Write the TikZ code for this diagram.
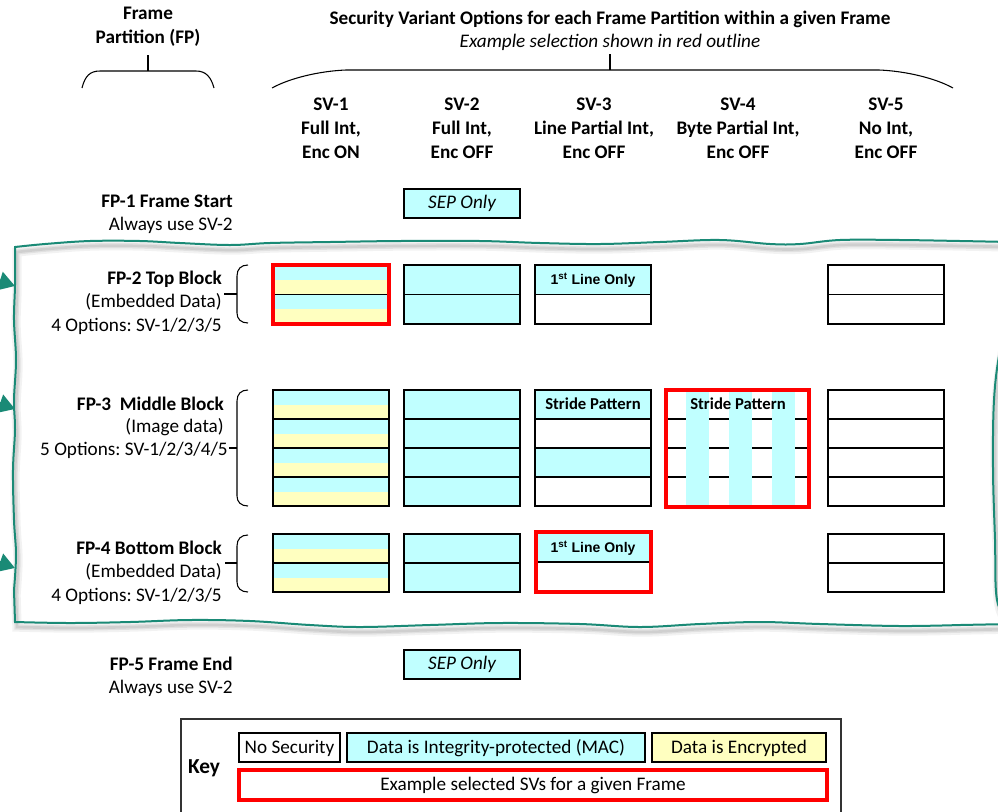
\documentclass[tikz,border=0pt]{standalone}
\usepackage{fontspec}
\setmainfont{Carlito}
\newfontfamily\arialfont{Liberation Sans}
\usetikzlibrary{arrows.meta}
\definecolor{macfill}{HTML}{C0FFFF}
\definecolor{encfill}{HTML}{FFFFC0}
\definecolor{selred}{HTML}{FF0000}
\definecolor{framegreen}{HTML}{1A8A76}
\frenchspacing

% one row: integrity-protected only
\newcommand\macrow[4]{\fill[macfill] ({#1},{#2}) rectangle ({#3},{#4});}
% one row: integrity-protected upper half, encrypted lower half
\newcommand\encrow[4]{%
  \fill[macfill] ({#1},{#2}) rectangle ({#3},{(#2+#4)/2});
  \fill[encfill] ({#1},{(#2+#4)/2}) rectangle ({#3},{#4});}
% outline of a block of #5 equal rows
\newcommand\cellblock[5]{%
  \draw[cellline] ({#1},{#2}) rectangle ({#3},{#4});
  \foreach \k in {1,...,#5}{\ifnum\k<#5
    \draw[cellline] ({#1},{#2+\k*(#4-#2)/#5}) -- ({#3},{#2+\k*(#4-#2)/#5});\fi}}

% outline of the frame region (hand-drawn look)
\newcommand\framepath{%
  plot[smooth,tension=0.6] coordinates {(15,247) (45,244) (90,241) (140,241) (180,243) (230,245) (270,243) (330,242) (400,241) (480,241) (540,243) (600,244) (660,242) (720,240) (770,244) (800,244) (840,240) (900,240) (960,241) (1010,242)}
  -- plot[smooth,tension=0.6] coordinates {(1012,300) (1000,350) (994,400) (993,470) (995,540) (997,600) (1010,624)}
  -- plot[smooth,tension=0.6] coordinates {(960,625) (900,626) (820,624) (760,622) (700,624) (640,627) (580,624) (500,623) (430,625) (360,627) (310,625) (250,621) (190,620) (130,622) (70,623) (15,622)}
  -- plot[smooth,tension=0.6] coordinates {(14,590) (16,555) (14,520) (13,470) (15,430) (14,400) (16,360) (14,320) (15,285) (15,250)}
  -- cycle}

\begin{document}
\begin{tikzpicture}[x=0.75pt,y=-0.75pt,
  txt/.style={font=\fontsize{14.4}{18}\selectfont, inner sep=0pt},
  btxt/.style={font=\fontsize{14.4}{18}\selectfont\bfseries, inner sep=0pt},
  celltxt/.style={font=\fontsize{10.5}{12}\selectfont\arialfont\bfseries, inner sep=0pt},
  stridetxt/.style={font=\fontsize{12.5}{14}\selectfont\bfseries, inner sep=0pt},
  cellline/.style={draw=black, line width=0.9pt},
  selbox/.style={draw=selred, line width=2.5pt},
  bracket/.style={draw=black, line width=0.8pt},
  framearrow/.style={draw=framegreen, line width=2.5pt, -{Triangle[length=12pt,width=14pt]}}]
\useasboundingbox (0,0) rectangle (998,811);

% ---------------- headers ----------------
\node[btxt, align=center] (fphead) at (148,27) {Frame\\Partition (FP)};
\draw[bracket] (82,88) .. controls (85,76) and (90,71) .. (100,71) -- (196,71)
  .. controls (206,71) and (211,77) .. (214,88);
\draw[bracket] (148,55) -- (148,71);

\node[btxt] (title) at (610,19) {Security Variant Options for each Frame Partition within a given Frame};
\node[txt, font=\fontsize{14.4}{18}\selectfont\itshape] (subtitle) at (610,42) {Example selection shown in red outline};
\draw[bracket] (272,88) .. controls (290,78) and (320,71) .. (346,70) -- (879,70)
  .. controls (905,71) and (935,78) .. (953,88);
\draw[bracket] (610,54) -- (610,70);

\node[btxt, align=center] (sv1) at (331,128) {SV-1\\Full Int,\\Enc ON};
\node[btxt, align=center] (sv2) at (462,128) {SV-2\\Full Int,\\Enc OFF};
\node[btxt, align=center] (sv3) at (594,128) {SV-3\\Line Partial Int,\\Enc OFF};
\node[btxt, align=center] (sv4) at (738,128) {SV-4\\Byte Partial Int,\\Enc OFF};
\node[btxt, align=center] (sv5) at (886,128) {SV-5\\No Int,\\Enc OFF};

% ---------------- frame region ----------------
\draw[black, opacity=0.05, line width=7pt, shift={(2,5)}] \framepath;
\draw[black, opacity=0.07, line width=4pt, shift={(2,5)}] \framepath;
\draw[black, opacity=0.08, line width=2pt, shift={(2,5)}] \framepath;
\draw[framegreen, line width=1.5pt] \framepath;

\coordinate (arrAsrc) at (-22,274);
\coordinate (arrAtip) at (15,286);
\coordinate (arrBsrc) at (-22,396);
\coordinate (arrBtip) at (15,409);
\coordinate (arrCsrc) at (-22,555);
\coordinate (arrCtip) at (15,568);
\draw[framearrow] (arrAsrc) -- (arrAtip);
\draw[framearrow] (arrBsrc) -- (arrBtip);
\draw[framearrow] (arrCsrc) -- (arrCtip);

% ---------------- FP-1 ----------------
\node[btxt, anchor=east] (fp1a) at (233,201) {FP-1 Frame Start};
\node[txt, anchor=east] (fp1b) at (233,225) {Always use SV-2};
\draw[cellline, fill=macfill] (404,189) rectangle (520,218);
\node[txt, font=\fontsize{14.4}{18}\selectfont\itshape] (sep1) at (462,203.5) {SEP Only};

% ---------------- FP-2 ----------------
\node[btxt, anchor=east] (fp2a) at (222,279) {FP-2 Top Block};
\node[txt, anchor=east] (fp2b) at (222,302) {(Embedded Data)};
\node[txt, anchor=east] (fp2c) at (222,326) {4 Options: SV-1/2/3/5};
\draw[bracket] (248,265) .. controls (241,265) and (237,269) .. (237,276) -- (237,313)
  .. controls (237,319) and (241,323) .. (248,323);
\draw[bracket] (224,294) -- (237,294);

\encrow{273}{265}{389}{294.5}
\encrow{273}{294.5}{389}{324}
\cellblock{273}{265}{389}{324}{2}
\macrow{404}{265}{520}{324}
\cellblock{404}{265}{520}{324}{2}
\macrow{535}{265}{651}{294.5}
\cellblock{535}{265}{651}{324}{2}
\node[celltxt] (fp2first) at (593,280) {1\textsuperscript{st} Line Only};
\cellblock{828}{265}{944}{324}{2}
\draw[selbox] (273,265) rectangle (389,324);

% ---------------- FP-3 ----------------
\node[btxt, anchor=east] (fp3a) at (224,404) {FP-3~ Middle Block};
\node[txt, anchor=east] (fp3b) at (224,427) {(Image data)};
\node[txt, anchor=east] (fp3c) at (228,450) {5 Options: SV-1/2/3/4/5};
\draw[bracket] (248,390) .. controls (241,390) and (237,394) .. (237,401) -- (237,496)
  .. controls (237,502) and (241,506) .. (248,506);
\draw[bracket] (229,448) -- (237,448);

\foreach \r in {0,1,2,3}{\encrow{273}{390+\r*29}{389}{390+(\r+1)*29}}
\cellblock{273}{390}{389}{506}{4}
\macrow{404}{390}{520}{506}
\cellblock{404}{390}{520}{506}{4}
\macrow{535}{390}{651}{419}
\macrow{535}{448}{651}{477}
\cellblock{535}{390}{651}{506}{4}
\node[stridetxt] (fp3stride) at (593,404) {Stride Pattern};
% byte-partial stride: horizontal row lines under vertical protected stripes
\foreach \yy in {419,448,477}{\draw[cellline] (666,\yy) -- (809,\yy);}
\foreach \xx in {686,729,772}{\fill[macfill] (\xx,390) rectangle (\xx+23,507);}
\node[stridetxt] (fp3bytes) at (738,404) {Stride Pattern};
\draw[selbox] (666,390) rectangle (809,507);
\cellblock{828}{390}{944}{506}{4}

% ---------------- FP-4 ----------------
\node[btxt, anchor=east] (fp4a) at (222,548) {FP-4 Bottom Block};
\node[txt, anchor=east] (fp4b) at (222,572) {(Embedded Data)};
\node[txt, anchor=east] (fp4c) at (222,596) {4 Options: SV-1/2/3/5};
\draw[bracket] (248,535) .. controls (241,535) and (237,539) .. (237,546) -- (237,582)
  .. controls (237,588) and (241,592) .. (248,592);
\draw[bracket] (225,563) -- (237,563);

\encrow{273}{534}{389}{563}
\encrow{273}{563}{389}{592}
\cellblock{273}{534}{389}{592}{2}
\macrow{404}{534}{520}{592}
\cellblock{404}{534}{520}{592}{2}
\macrow{535}{532}{651}{563}
\cellblock{535}{532}{651}{592}{2}
\node[celltxt] (fp4first) at (593,548) {1\textsuperscript{st} Line Only};
\draw[selbox] (536,532) rectangle (651,592);
\cellblock{828}{534}{944}{592}{2}

% ---------------- FP-5 ----------------
\node[btxt, anchor=east] (fp5a) at (233,664) {FP-5 Frame End};
\node[txt, anchor=east] (fp5b) at (233,688) {Always use SV-2};
\draw[cellline, fill=macfill] (404,650) rectangle (520,679);
\node[txt, font=\fontsize{14.4}{18}\selectfont\itshape] (sep5) at (462,664.5) {SEP Only};

% ---------------- key ----------------
\draw[draw=black!80, line width=0.8pt] (181,719) rectangle (841,815);
\node[btxt, font=\fontsize{16}{18}\selectfont\bfseries] (keyttl) at (204,768) {Key};
\draw[cellline, fill=white] (239,733) rectangle (340,762);
\node[txt] (keynone) at (289.5,748) {No Security};
\draw[cellline, fill=macfill] (347,733) rectangle (645,762);
\node[txt] (keymac) at (496,748) {Data is Integrity-protected (MAC)};
\draw[cellline, fill=encfill] (652,733) rectangle (826,762);
\node[txt] (keyenc) at (739,748) {Data is Encrypted};
\draw[selbox] (239,770) rectangle (827,800);
\node[txt] (keysel) at (533,785) {Example selected SVs for a given Frame};
\end{tikzpicture}
\end{document}
